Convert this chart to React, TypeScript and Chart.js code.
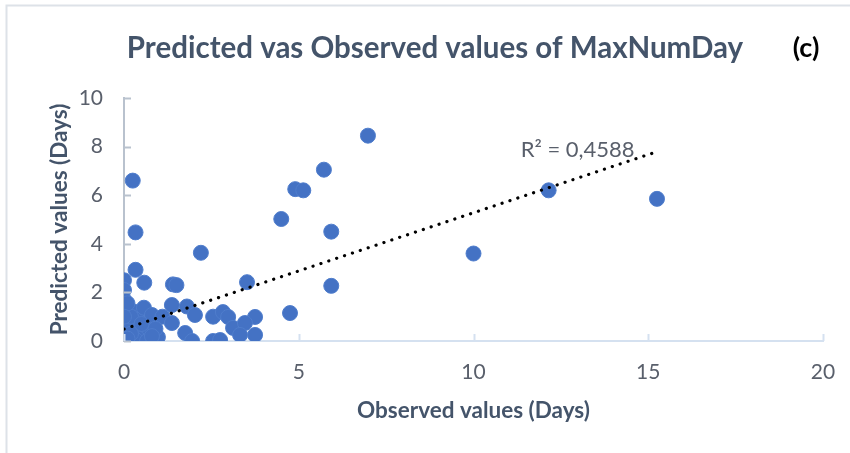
import React, { useEffect, useRef } from "react";
import { Chart, registerables } from "chart.js";

Chart.register(...registerables);

const TITLE = "Predicted vas Observed values of MaxNumDay";
const PANEL = "(c)";
const X_TITLE = "Observed values (Days)";
const Y_TITLE = "Predicted values (Days)";
const R2_LABEL = "R² = 0,4588";

const observed: number[] = [
  0.25, 0.33, 0.33, 0, 0.58, 1.4, 1.5, 2.2, 3.52, 4.5,
  4.9, 5.13, 5.72, 6.98, 5.93, 5.93, 4.75, 10.0, 12.15, 15.25,
  0, 0, 0, 0, 0, 0, 0.3, 0.4, 0.4, 0.33,
  0.57, 0.68, 0.66, 0.8, 1.1, 0.97, 1.37, 1.37, 1.8, 2.03,
  1.75, 1.95, 2.55, 2.83, 2.98, 3.75, 3.12, 3.46, 3.32, 3.75,
  2.55, 2.75, 0.15, 0.2, 0.5, 0.9, 0.1, 0.8, 0, 0, 0.2, 0.1,
];
const predicted: number[] = [
  6.6, 4.47, 2.93, 2.5, 2.4, 2.33, 2.3, 3.63, 2.42, 5.02,
  6.25, 6.2, 7.05, 8.45, 4.5, 2.27, 1.15, 3.6, 6.2, 5.85,
  2.1, 1.7, 1.35, 0.87, 0.45, 0, 1.2, 0.87, 0.37, 0.05,
  1.37, 0.55, 0, 1.07, 1.0, 0.16, 1.48, 0.74, 1.42, 1.07,
  0.33, 0, 1.0, 1.19, 0.99, 0.99, 0.54, 0.74, 0.25, 0.25,
  0, 0.04, 0.6, 1.0, 0.7, 0.5, 1.55, 0.2, 1.0, 0.2, 0.3, 0.1,
];

const trendX: number[] = [0, 15.25];
const trendY: number[] = [0.49, 7.79];

const xTicks: number[] = [0, 5, 10, 15, 20];
const yTicks: number[] = [0, 2, 4, 6, 8, 10];

const FONT = "Lato, 'Open Sans', sans-serif";
const TEXT_COLOR = "#44546A";
const TICK_COLOR = "#595f6b";

const decorPlugin = {
  id: "decor",
  beforeDraw(chart: any) {
    const { ctx } = chart;
    ctx.save();
    ctx.strokeStyle = "#dde2e8";
    ctx.lineWidth = 2;
    ctx.beginPath();
    ctx.moveTo(6.5, 453);
    ctx.lineTo(6.5, 5.5);
    ctx.lineTo(850, 5.5);
    ctx.stroke();
    ctx.restore();
  },
  afterDatasetsDraw(chart: any) {
    const { ctx, chartArea, scales } = chart;
    ctx.save();
    ctx.lineWidth = 2;
    ctx.strokeStyle = "#b9c2ce";
    yTicks.forEach((v) => {
      const y = Math.round(scales.y.getPixelForValue(v)) + 0.5;
      ctx.beginPath();
      ctx.moveTo(chartArea.left, y);
      ctx.lineTo(chartArea.left + 7, y);
      ctx.stroke();
    });
    ctx.strokeStyle = "#d5e1f0";
    xTicks.forEach((v) => {
      const x = Math.round(scales.x.getPixelForValue(v)) + 0.5;
      ctx.beginPath();
      ctx.moveTo(x, chartArea.bottom);
      ctx.lineTo(x, chartArea.bottom - 7);
      ctx.stroke();
    });
    ctx.restore();
  },
  afterDraw(chart: any) {
    const { ctx, scales } = chart;
    ctx.save();
    ctx.textBaseline = "middle";
    ctx.fillStyle = TEXT_COLOR;
    ctx.font = `bold 29.5px ${FONT}`;
    ctx.textAlign = "center";
    ctx.fillText(TITLE, 435, 48);
    ctx.fillStyle = "#000000";
    ctx.font = `bold 27px ${FONT}`;
    ctx.fillText(PANEL, 806, 48);
    ctx.fillStyle = TICK_COLOR;
    ctx.font = `22px ${FONT}`;
    ctx.textAlign = "left";
    const lx = scales.x.getPixelForValue(11.35);
    const ly = scales.y.getPixelForValue(7.85);
    ctx.fillText(R2_LABEL, lx, ly);
    ctx.restore();
  },
};

export default function App() {
  const ref = useRef<HTMLCanvasElement | null>(null);

  useEffect(() => {
    if (!ref.current) return;
    const points = observed.map((x, i) => ({ x, y: predicted[i] }));
    const trend = trendX.map((x, i) => ({ x, y: trendY[i] }));
    const chart = new Chart(ref.current, {
      type: "scatter",
      data: {
        datasets: [
          {
            label: "Linear trend",
            data: trend,
            showLine: true,
            borderColor: "#000000",
            borderWidth: 3.2,
            borderDash: [0.1, 8.2],
            borderCapStyle: "round",
            pointRadius: 0,
            fill: false,
            order: 0,
          } as any,
          {
            label: "Predicted",
            data: points,
            backgroundColor: "#4472C4",
            borderColor: "#4f7dcc",
            borderWidth: 1,
            pointRadius: 7.5,
            order: 1,
          },
        ],
      },
      options: {
        animation: false,
        responsive: false,
        maintainAspectRatio: false,
        layout: { padding: { left: 40, right: 27, top: 98, bottom: 0 } },
        plugins: {
          legend: { display: false },
          tooltip: { enabled: false },
          title: { display: false },
        },
        scales: {
          x: {
            type: "linear",
            min: 0,
            max: 20,
            afterBuildTicks: (s: any) => {
              s.ticks = xTicks.map((v) => ({ value: v }));
            },
            afterFit: (s: any) => {
              s.height = 112;
              s.paddingLeft = 0;
              s.paddingRight = 0;
            },
            grid: { display: false, drawTicks: false },
            border: { display: true, color: "#d5e1f0", width: 2 },
            ticks: {
              color: TICK_COLOR,
              font: { family: FONT, size: 21 },
              padding: 19,
            },
            title: {
              display: true,
              text: X_TITLE,
              color: TEXT_COLOR,
              font: { family: FONT, size: 22.5, weight: "bold" },
              padding: { top: 4, bottom: 29 },
            },
          },
          y: {
            type: "linear",
            min: 0,
            max: 10,
            afterBuildTicks: (s: any) => {
              s.ticks = yTicks.map((v) => ({ value: v }));
            },
            afterFit: (s: any) => {
              s.width = 84;
              s.paddingTop = 0;
              s.paddingBottom = 0;
            },
            grid: { display: false, drawTicks: false },
            border: { display: true, color: "#b9c2ce", width: 2 },
            ticks: {
              color: TICK_COLOR,
              font: { family: FONT, size: 21 },
              padding: 21,
            },
            title: {
              display: true,
              text: Y_TITLE,
              color: TEXT_COLOR,
              font: { family: FONT, size: 22.5, weight: "bold" },
              padding: { top: 6, bottom: 4 },
            },
          },
        },
      },
      plugins: [decorPlugin],
    });
    return () => chart.destroy();
  }, []);

  return (
    <div style={{ position: "fixed", left: 0, top: 0, width: 850, height: 453, background: "#ffffff" }}>
      <canvas ref={ref} width={850} height={453} style={{ width: 850, height: 453 }} />
    </div>
  );
}
